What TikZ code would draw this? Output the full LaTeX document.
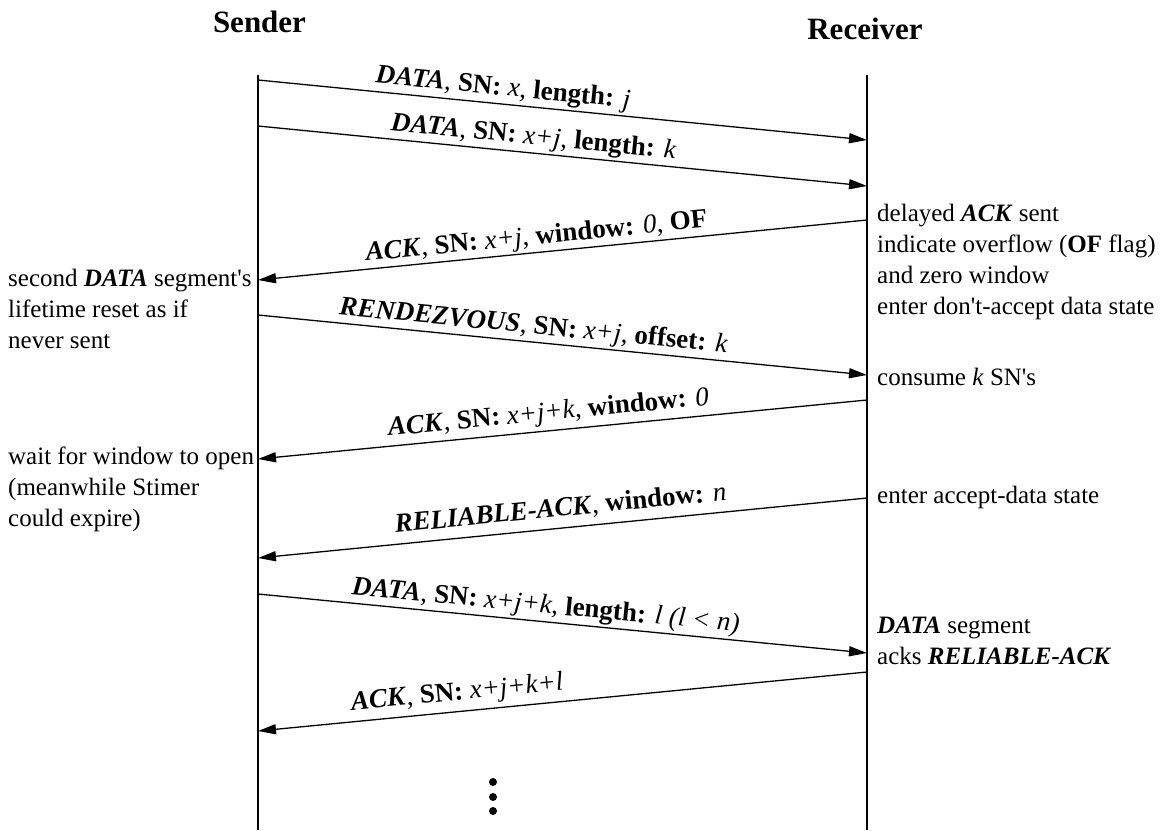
\documentclass[tikz,border=0pt]{standalone}
\usepackage{fontspec}
\setmainfont{Liberation Serif}
\usetikzlibrary{arrows.meta}
\newcommand\bi[1]{\textbf{\textit{#1}}}
\newcommand\ap{\textquotesingle}
\begin{document}
\begin{tikzpicture}[x=1pt,y=-1pt,
  life/.style={line width=1.9pt},
  msg/.style={line width=1.3pt,-{Triangle[length=18pt,width=10pt]}},
  lbl/.style={sloped,above,inner sep=2pt,font=\fontsize{27}{32}\selectfont},
  note/.style={inner sep=0pt,align=left,anchor=north west,font=\fontsize{25}{31}\selectfont},
  ttl/.style={inner sep=0pt,font=\fontsize{31}{36}\selectfont\bfseries},
  dotn/.style={circle,fill,inner sep=0pt,minimum size=8pt}]
\useasboundingbox (0,0) rectangle (1169,830);
% titles
\node[ttl] (sender) at (259.5,22) {Sender};
\node[ttl] (receiver) at (865,29) {Receiver};
% lifelines
\coordinate (st) at (258,75);
\coordinate (sb) at (258,830);
\coordinate (rt) at (867,75);
\coordinate (rb) at (867,830);
\draw[life] (st) -- (sb);
\draw[life] (rt) -- (rb);
% message endpoints
\coordinate (s1) at (258,80);  \coordinate (r1) at (867,140);
\coordinate (s2) at (258,126); \coordinate (r2) at (867,186);
\coordinate (r3) at (867,220); \coordinate (s3) at (258,280);
\coordinate (s4) at (258,315); \coordinate (r4) at (867,375);
\coordinate (r5) at (867,400); \coordinate (s5) at (258,459);
\coordinate (r6) at (867,498); \coordinate (s6) at (258,558);
\coordinate (s7) at (258,594); \coordinate (r7) at (867,653);
\coordinate (r8) at (867,672); \coordinate (s8) at (258,731);
% messages
\draw[msg] (s1) -- node[lbl,pos=0.40] (l1) {\bi{DATA}, \textbf{SN:} \textit{x}, \textbf{length:} \textit{j}} (r1);
\draw[msg] (s2) -- node[lbl,pos=0.45] (l2) {\bi{DATA}, \textbf{SN:} \textit{x+j}, \textbf{length:} \textit{k}} (r2);
\draw[msg] (r3) -- node[lbl,pos=0.54] (l3) {\bi{ACK}, \textbf{SN:} \textit{x+j}, \textbf{window:} \textit{0}, \textbf{OF}} (s3);
\draw[msg] (s4) -- node[lbl,pos=0.45] (l4) {\bi{RENDEZVOUS}, \textbf{SN:} \textit{x+j}, \textbf{offset:} \textit{k}} (r4);
\draw[msg] (r5) -- node[lbl,pos=0.52,inner sep=4pt] (l5) {\bi{ACK}, \textbf{SN:} \textit{x+j+k}, \textbf{window:} \textit{0}} (s5);
\draw[msg] (r6) -- node[lbl,pos=0.50,inner sep=7pt] (l6) {\bi{RELIABLE-ACK}, \textbf{window:} \textit{n}} (s6);
\draw[msg] (s7) -- node[lbl,pos=0.47] (l7) {\bi{DATA}, \textbf{SN:} \textit{x+j+k}, \textbf{length:} \textit{l (l < n)}} (r7);
\draw[msg] (r8) -- node[lbl,pos=0.67,inner sep=5pt] (l8) {\bi{ACK}, \textbf{SN:} \textit{x+j+k+l}} (s8);
% notes
\node[note] (n1) at (8,269) {second \bi{DATA} segment\ap s\\lifetime reset as if\\never sent};
\node[note] (n2) at (8,447) {wait for window to open\\(meanwhile Stimer\\could expire)};
\node[note] (n3) at (877,204) {delayed \bi{ACK} sent\\indicate overflow (\textbf{OF} flag)\\and zero window\\enter don\ap t-accept data state};
\node[note] (n4) at (877,368) {consume \textit{k} SN\ap s};
\node[note] (n5) at (877,486) {enter accept-data state};
\node[note] (n6) at (877,617) {\bi{DATA} segment\\acks \bi{RELIABLE-ACK}};
% continuation dots
\node[dotn] (d1) at (493,782) {};
\node[dotn] (d2) at (493,797) {};
\node[dotn] (d3) at (493,811) {};
\end{tikzpicture}
\end{document}
